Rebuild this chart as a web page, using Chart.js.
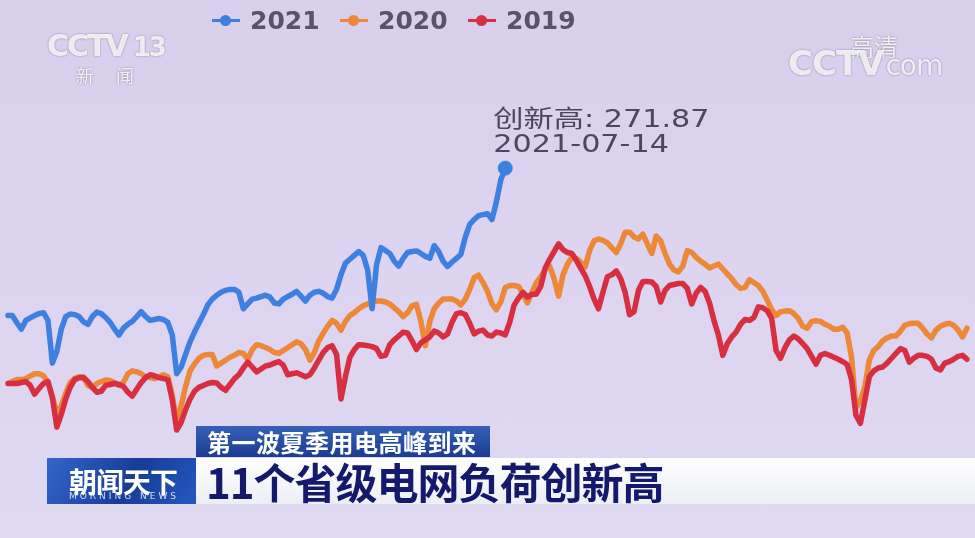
<!DOCTYPE html>
<html>
<head>
<meta charset="utf-8">
<script src="https://cdn.jsdelivr.net/npm/chart.js@4.4.1/dist/chart.umd.min.js"></script>
<style>
  body { margin: 0; width: 975px; height: 538px; overflow: hidden; position: relative;
         background: linear-gradient(#d8cfec, #dcd4f0 50%, #e0d9f2); font-family: "Noto Sans CJK SC", sans-serif; }
  #wrap { position: absolute; left: 0; top: 0; width: 975px; height: 538px; }
  #legend { position: absolute; left: 212px; top: 6px; display: flex; align-items: center; }
  #legend .item { display: flex; align-items: center; margin-right: 18px; }
  #legend .mk { position: relative; width: 28px; height: 3px; margin-right: 10px; }
  #legend .mk i { position: absolute; left: 8px; top: -4px; width: 11px; height: 11px; border-radius: 50%; }
  #legend .tx { font: bold 25px "DejaVu Sans", sans-serif; color: #57536a; width: 72px; }
  .logo { position: absolute; color: rgba(255,255,255,0.85); text-shadow: 0 0 2px rgba(90,85,110,0.7); }
  #cap1 { position: absolute; left: 196px; top: 426px; width: 294px; height: 31px;
          background: linear-gradient(#3560b8, #1b3c92); color: #fff; font: bold 24px "Noto Sans CJK SC";
          line-height: 31px; padding-left: 11px; box-sizing: border-box; letter-spacing: 0.5px; }
  #show { position: absolute; left: 47px; top: 458px; width: 149px; height: 46px;
          background: linear-gradient(120deg, #3366cc, #173c98 55%, #2458c0); color: #fff; }
  #show b { position: absolute; left: 22px; top: 3px; font: bold 28px "Noto Sans CJK SC"; letter-spacing: -1px; }
  #show s { position: absolute; left: 22px; top: 33px; font: 9px "DejaVu Sans"; letter-spacing: 3px; text-decoration: none; color: rgba(255,255,255,0.8); }
  #cap2 { position: absolute; left: 196px; top: 458px; right: 0; height: 46px;
          background: linear-gradient(#ffffff, #eceef4); color: #15196c;
          font: bold 42px "Noto Sans CJK SC"; line-height: 46px; padding-left: 10px; box-sizing: border-box; letter-spacing: -1px; }
</style>
</head>
<body>
<div id="wrap"><canvas id="loadChart"></canvas></div>
<div id="legend"></div>

<div class="logo" style="left:47px; top:28px; font: bold 30px 'DejaVu Sans'; letter-spacing:-2px;">CCTV<span style="font-size:26px; margin-left:6px;">13</span></div>
<div class="logo" style="left:76px; top:62px; font: 18px 'Noto Sans CJK SC'; letter-spacing:22px;">新闻</div>
<div class="logo" style="left:850px; top:28px; font: 24px 'Noto Sans CJK SC';">高清</div>
<div class="logo" style="left:788px; top:43px; font: bold 34px 'DejaVu Sans'; letter-spacing:-1px;">CCTV<span style="font: 28px 'DejaVu Sans'; margin-left:2px;">com</span></div>

<div id="cap1">第一波夏季用电高峰到来</div>
<div id="show"><b>朝闻天下</b><s>MORNING NEWS</s></div>
<div id="cap2">11个省级电网负荷创新高</div>

<script>
// daily grid load, from 03-24, one value per day
var load2021 = [195.9,195.9,192.2,188.9,193.4,194.7,195.9,196.9,197.4,193.4,
  171.4,177.4,188.9,195.4,196.7,196.4,195.4,192.7,191.4,195.4,
  197.7,196.9,194.9,192.4,188.9,185.9,189.4,191.4,192.9,195.4,
  197.9,195.4,193.4,193.9,194.4,193.9,192.4,185.9,165.9,169.4,
  175.9,182.4,187.4,191.9,196.4,201.4,204.4,206.4,207.9,208.9,
  209.4,209.4,207.9,199.4,201.9,204.4,204.9,205.7,206.4,205.4,
  202.4,201.9,204.4,205.7,206.9,208.4,205.9,203.4,206.4,207.9,
  208.4,207.4,205.7,204.9,209.4,216.9,222.9,224.9,226.9,228.9,
  226.9,219.4,199.4,221.9,230.9,229.4,227.9,223.9,221.4,225.4,
  228.4,228.9,229.2,227.9,226.4,225.4,231.9,228.9,223.9,221.2,
  223.4,225.4,227.4,236.4,242.9,245.4,247.4,247.9,248.4,245.4,
  254.4,265.9,271.87];

var load2020 = [160.9,161.9,162.9,162.9,163.4,164.7,165.9,165.9,164.9,161.4,
  154.4,145.4,149.4,155.9,161.4,163.4,164.4,164.4,159.9,158.9,
  160.9,161.9,162.7,162.4,161.4,159.9,161.4,165.9,167.4,166.9,
  165.9,164.4,163.9,163.4,164.4,165.4,164.4,154.9,140.9,149.4,
  159.4,167.4,170.9,173.9,175.4,175.9,175.9,169.9,171.4,172.9,
  174.4,175.4,176.9,176.4,173.4,178.4,180.9,180.4,179.4,178.4,
  176.9,176.4,177.9,179.4,180.9,182.4,181.4,178.4,172.9,176.9,
  182.9,186.9,190.4,193.4,191.9,188.4,192.9,195.9,197.4,199.4,
  200.9,201.9,202.9,203.4,203.4,202.9,201.9,199.9,197.9,195.4,
  197.4,200.9,201.7,192.9,180.4,192.9,199.4,202.4,204.4,204.4,
  204.4,203.4,201.4,204.4,209.4,215.4,216.7,212.9,208.4,201.9,
  198.9,202.9,210.4,211.4,211.4,210.9,206.9,202.4,207.9,212.9,
  215.9,219.9,221.4,214.9,205.9,216.9,222.4,225.9,225.4,223.4,
  220.9,229.4,234.4,235.4,234.7,233.4,230.9,228.4,232.9,238.9,
  238.9,236.4,235.4,237.9,232.9,227.9,236.9,234.4,227.9,222.4,
  219.4,218.4,221.4,229.4,228.4,225.9,223.9,222.4,220.4,221.4,
  222.4,219.9,217.4,214.9,211.9,209.9,210.4,214.4,212.9,211.4,
  208.4,203.9,198.9,195.9,197.9,198.2,198.4,196.9,194.4,190.4,
  189.4,192.9,193.2,192.9,191.4,190.4,188.9,188.9,189.9,186.9,
  174.4,148.4,151.9,159.4,172.9,177.9,179.9,182.9,184.4,185.4,
  185.4,187.9,190.9,191.7,191.9,191.9,189.4,186.4,184.4,188.4,
  190.4,191.4,191.9,190.9,188.4,184.9,189.4];

var load2019 = [160.9,160.9,160.9,161.4,161.9,159.9,155.4,158.4,160.9,161.9,
  153.4,138.4,144.9,152.9,158.9,162.9,163.9,163.9,161.9,158.9,
  156.4,156.9,159.9,160.4,160.9,160.4,159.4,156.4,154.4,157.9,
  161.4,163.9,165.4,164.9,163.9,163.4,162.9,152.4,136.9,140.9,
  147.4,152.9,156.9,158.9,159.9,160.9,161.4,161.2,158.9,157.4,
  160.4,163.4,165.4,168.9,171.9,169.4,166.9,168.4,169.9,170.4,
  171.4,172.2,170.4,165.4,165.9,166.4,165.4,164.4,165.4,168.9,
  172.9,176.9,179.4,180.4,175.9,152.9,164.4,174.4,178.4,180.9,
  180.7,180.4,179.9,178.9,174.9,175.4,180.9,183.4,185.4,187.4,
  186.9,182.9,178.4,181.9,183.4,184.9,187.9,186.9,184.9,186.4,
  192.4,196.9,197.4,196.4,191.9,186.4,187.9,188.4,185.9,185.4,
  187.4,186.9,185.9,192.4,201.4,204.9,207.9,205.4,206.9,206.9,
  210.9,220.4,224.9,228.9,232.9,229.9,228.4,227.9,224.4,220.4,
  216.4,210.9,204.4,199.4,207.9,215.9,216.9,218.9,214.9,207.9,
  196.4,197.9,208.9,213.4,213.4,213.2,210.9,202.9,208.9,211.4,
  211.9,212.4,212.4,209.9,201.9,207.4,210.4,208.4,202.4,193.4,
  185.9,175.4,181.4,184.9,187.4,191.4,193.9,193.4,194.9,200.4,
  199.9,198.4,194.4,177.9,173.9,179.4,183.4,185.4,183.9,181.4,
  178.9,174.9,170.9,175.4,176.4,175.4,174.4,173.4,172.2,170.7,
  162.9,144.4,140.4,152.4,164.4,167.4,168.9,169.4,171.4,173.9,
  176.4,178.9,177.9,171.9,173.9,175.4,175.4,174.9,173.4,168.9,
  167.9,171.4,172.2,173.4,174.9,175.4,173.4];

// x categories: MM-DD from 03-24
var days = [];
var start = Date.UTC(2021, 2, 24);
for (var i = 0; i < load2020.length; i++) {
  var d = new Date(start + i * 86400000);
  days.push(String(d.getUTCMonth() + 1).padStart(2, '0') + '-' + String(d.getUTCDate()).padStart(2, '0'));
}

var blue = '#3d80e0', orange = '#ec8838', red = '#d82e42';
var peakIdx = load2021.length - 1;

// 创新高 note above the last 2021 point
var peakNote = {
  id: 'peakNote',
  afterDatasetsDraw: function(chart) {
    var pt = chart.getDatasetMeta(0).data[peakIdx];
    var ctx = chart.ctx;
    var lines = ['创新高: ' + load2021[peakIdx], '2021-' + days[peakIdx]];
    ctx.save();
    ctx.fillStyle = '#4b4661';
    ctx.font = '24px "DejaVu Sans", "Noto Sans CJK SC", sans-serif';
    lines.forEach(function(t, i) {
      ctx.save();
      ctx.translate(pt.x - 12, pt.y - 41 + i * 25);
      ctx.scale(1.26, 1);
      ctx.fillText(t, 0, 0);
      ctx.restore();
    });
    ctx.restore();
  }
};

var ctx = document.getElementById('loadChart');
var chart = new Chart(ctx, {
  type: 'line',
  data: {
    labels: days,
    datasets: [
      { label: '2021', data: load2021, borderColor: blue, backgroundColor: blue, order: 0,
        pointRadius: function(c) { return c.dataIndex === peakIdx ? 7 : 0; } },
      { label: '2020', data: load2020, borderColor: orange, backgroundColor: orange, order: 2, pointRadius: 0 },
      { label: '2019', data: load2019, borderColor: red, backgroundColor: red, order: 1, pointRadius: 0 }
    ]
  },
  options: {
    responsive: true,
    maintainAspectRatio: false,
    animation: false,
    layout: { padding: { left: 0, right: 3, top: 0, bottom: 0 } },
    elements: { line: { borderWidth: 5.5, tension: 0, borderJoinStyle: 'round', borderCapStyle: 'round' } },
    scales: {
      x: { display: false, offset: false },
      y: { display: false, min: 85.4, max: 354.4 }
    },
    plugins: { legend: { display: false }, tooltip: { enabled: false } }
  },
  plugins: [peakNote]
});

// html legend from the datasets
var legend = document.getElementById('legend');
chart.data.datasets.forEach(function(ds) {
  var item = document.createElement('span');
  item.className = 'item';
  item.innerHTML = '<span class="mk" style="background:' + ds.borderColor + '"><i style="background:' +
    ds.borderColor + '"></i></span><span class="tx">' + ds.label + '</span>';
  legend.appendChild(item);
});
</script>
</body>
</html>
